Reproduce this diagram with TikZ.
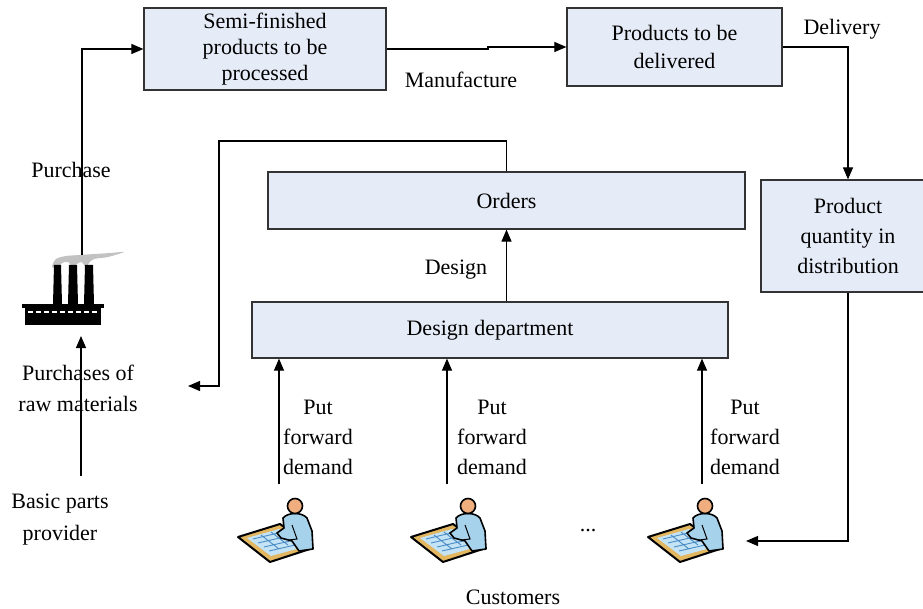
\documentclass[tikz,border=0pt]{standalone}
\usepackage{fontspec}
\setmainfont{Liberation Serif}
\usepackage{tikz}
\usetikzlibrary{arrows.meta,positioning,calc}

\definecolor{boxblue}{HTML}{E6ECF7}
\definecolor{mattan}{HTML}{E3B660}
\definecolor{paperblue}{HTML}{C4E3F5}
\definecolor{printblue}{HTML}{4A8CC6}
\definecolor{shirtblue}{HTML}{A6D2EC}
\definecolor{skin}{HTML}{F0AE7E}
\definecolor{smoke}{HTML}{C2C2C2}

\tikzset{
  box/.style={draw=black!80, fill=boxblue, line width=1.2pt, align=center, inner sep=0pt},
  lbl/.style={align=center, inner sep=0pt},
  link/.style={line width=1.1pt, ->},
  customer/.pic={
    % mat with the drawing
    \filldraw[fill=mattan, draw=black, line width=2pt, line join=round] (-37,6) -- (5,-7) -- (38,17) -- (-5,31) -- cycle;
    \fill[paperblue] (-28,7) -- (4,-2) -- (29,16) -- (-4,25) -- cycle;
    \draw[printblue, line width=0.9pt] (-22,8) -- (3,2) (-17,12) -- (9,6) (-11,16) -- (15,10) (-6,20) -- (20,14) (-14,4) -- (4,18) (-4,1) -- (13,14);
    % person
    \filldraw[fill=shirtblue, draw=black, line width=1.6pt, line join=round] (8,-13) .. controls (13,-19) and (27,-19) .. (32,-13) -- (37,0) -- (38,18) -- (24,20) -- (17,10) -- (6,7) -- (2,2) -- (9,-3) -- cycle;
    \draw[black, line width=1pt] (17,-6) -- (22,8) -- (14,9);
    \filldraw[fill=skin, draw=black, line width=1.6pt] (20,-25) circle (7.5);
  }
}

\begin{document}
\begin{tikzpicture}[x=1pt,y=-1pt,font=\fontsize{22}{26}\selectfont,>={Triangle[length=12pt,width=10pt]}]
\useasboundingbox (0,0) rectangle (923,609);
\clip (0,0) rectangle (923,609);

% boxes
\node[box, minimum width=242, minimum height=82] (semi) at (265,49) {Semi-finished\\products to be\\processed};
\node[box, minimum width=215, minimum height=78, font=\fontsize{22}{28}\selectfont] (deliv) at (674.5,47) {Products to be\\delivered};
\node[box, minimum width=477, minimum height=57] (orders) at (506.5,200.5) {Orders};
\node[box, minimum width=476, minimum height=56] (design) at (490,330) {Design department};
\node[box, minimum width=174, minimum height=112, font=\fontsize{22}{30}\selectfont] (distrib) at (848,236) {Product\\quantity in\\distribution};

% factory
\fill[smoke] plot[smooth cycle] coordinates {(52,267) (56,259) (66,256) (80,255) (95,254) (110,253) (124,252) (108,257) (94,259) (89,263) (86,267) (81,262) (73,266) (68,262) (62,263) (58,267)};
\fill (53,304) -- (54,265) -- (61,265) -- (62,304) -- cycle;
\fill (68,304) -- (69,265) -- (77,265) -- (78,304) -- cycle;
\fill (84,304) -- (85,265) -- (93,265) -- (94,304) -- cycle;
\fill (22,304) rectangle (104,308);
\fill (25,307) rectangle (101,325);
\draw[white, line width=1.2pt, dash pattern=on 5pt off 3pt] (28,312) -- (99,312);
\coordinate (chimtop) at (82,255);
\coordinate (facbase) at (81,336);

% labels
\node[lbl] (manuf) at (461,80) {Manufacture};
\node[lbl] (delivlbl) at (842,29) {Delivery};
\node[lbl] (purch) at (71,170) {Purchase};
\node[lbl] (designlbl) at (456,270) {Design};
\node[lbl, font=\fontsize{22}{31}\selectfont] (raw) at (78,388) {Purchases of\\raw materials};
\node[lbl, font=\fontsize{22}{32}\selectfont] (provider) at (60,520) {Basic parts\\provider};
\node[lbl] (dots) at (588,531) {...};
\node[lbl] (cust) at (513,597) {Customers};
\coordinate (provtop) at (81,476);
\coordinate (rawin) at (188,386);
\coordinate (back3) at (746,541);

% connectors
\draw[link] (chimtop) |- (semi.west);
\draw[link] (semi.east) -- (488,49) |- (deliv.west);
\draw[link] (deliv.east) -| (distrib.north);
\draw[link] (distrib.south) |- (back3);
\draw[link] (orders.north) |- (219,141) |- (rawin);
\draw[link] (orders.south |- design.north) -- (orders.south);
\draw[link] (provtop) -- (facbase);

% customers
\foreach \i/\cx/\ax/\lx in {1/275/279/318, 2/448/447/492, 3/685/702/745}{
  \pic (cust\i) at (\cx,531) {customer};
  \coordinate (ask\i) at (\ax,484);
  \draw[link] (ask\i) -- (ask\i |- design.south);
  \node[lbl, font=\fontsize{22}{30}\selectfont] (dem\i) at (\lx,437) {Put\\forward\\demand};
}
\end{tikzpicture}
\end{document}
